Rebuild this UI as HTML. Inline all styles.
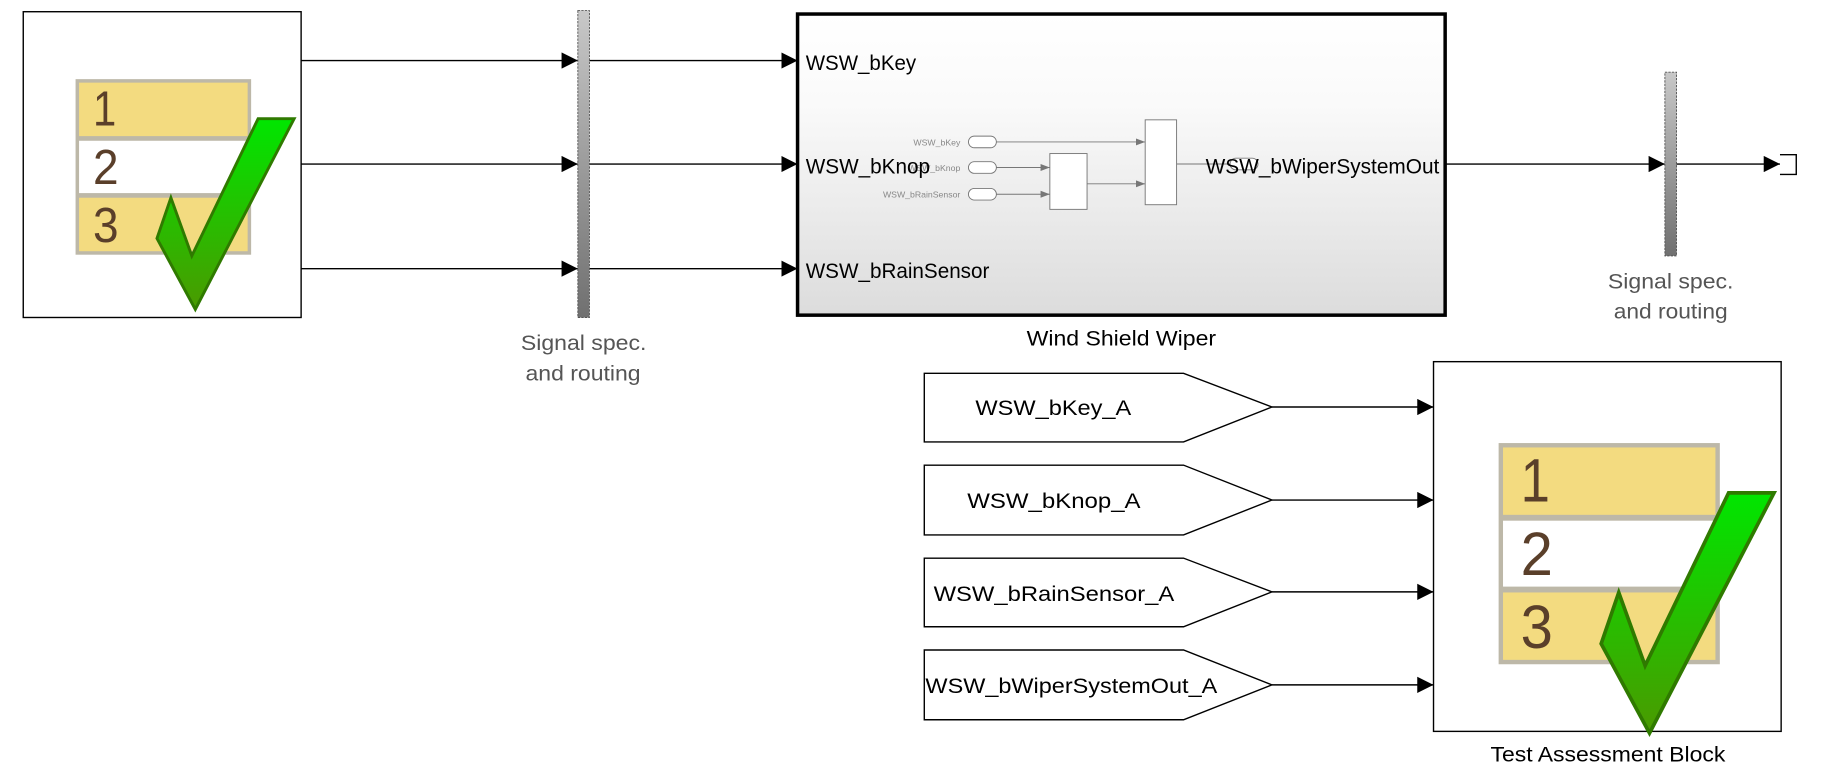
<!DOCTYPE html>
<html><head><meta charset="utf-8"><style>html,body{margin:0;padding:0;background:#fff;overflow:hidden}svg{display:block}</style></head>
<body>
<svg width="1823" height="771" viewBox="0 0 1568 663" xmlns="http://www.w3.org/2000/svg" font-family="Liberation Sans, sans-serif">
<defs>
<linearGradient id="wsw" x1="0" y1="0" x2="0" y2="1"><stop offset="0" stop-color="#fff"/><stop offset="0.3" stop-color="#fafafa"/><stop offset="1" stop-color="#dcdcdc"/></linearGradient>
<linearGradient id="chk" x1="0" y1="0" x2="0" y2="1"><stop offset="0" stop-color="#00e600"/><stop offset="1" stop-color="#4a9a00"/></linearGradient>
<linearGradient id="bar" x1="0" y1="0" x2="0" y2="1"><stop offset="0" stop-color="#c8c8c8"/><stop offset="1" stop-color="#707070"/></linearGradient>
<marker id="a" markerWidth="14" markerHeight="14" refX="14" refY="7" orient="auto" markerUnits="userSpaceOnUse"><path d="M0,0 L14,7 L0,14 z" fill="#000"/></marker>
<marker id="s" markerWidth="8" markerHeight="8" refX="8" refY="4" orient="auto" markerUnits="userSpaceOnUse"><path d="M0,1 L8,4 L0,7 z" fill="#777"/></marker>
<g id="icon">
<rect x="0" y="0" width="151" height="151" fill="#bdb8a8"/>
<rect x="3" y="3" width="145" height="46" fill="#f3db80"/>
<rect x="3" y="53" width="145" height="45" fill="#fff"/>
<rect x="3" y="102" width="145" height="46" fill="#f3db80"/>
<text x="15" y="40" font-size="42" fill="#5a3f2a" textLength="20" lengthAdjust="spacingAndGlyphs">1</text>
<text x="15" y="90" font-size="42" fill="#5a3f2a" textLength="22" lengthAdjust="spacingAndGlyphs">2</text>
<text x="15" y="140" font-size="42" fill="#5a3f2a" textLength="22" lengthAdjust="spacingAndGlyphs">3</text>
<polygon points="157,34 188,34 103,198 70,137 82,102 100,152" fill="url(#chk)" stroke="#2f7a00" stroke-width="2.5"/>
</g>
</defs>

<rect x="20" y="10" width="239" height="263" fill="#fff" stroke="#000" stroke-width="1.2"/>
<use href="#icon" x="65" y="68"/>

<g stroke="#000" stroke-width="1.2" fill="none">
<line x1="259" y1="52" x2="497" y2="52" marker-end="url(#a)"/>
<line x1="259" y1="141" x2="497" y2="141" marker-end="url(#a)"/>
<line x1="259" y1="231" x2="497" y2="231" marker-end="url(#a)"/>
<line x1="507" y1="52" x2="686" y2="52" marker-end="url(#a)"/>
<line x1="507" y1="141" x2="686" y2="141" marker-end="url(#a)"/>
<line x1="507" y1="231" x2="686" y2="231" marker-end="url(#a)"/>
<line x1="1243" y1="141" x2="1432" y2="141" marker-end="url(#a)"/>
<line x1="1442" y1="141" x2="1531" y2="141" marker-end="url(#a)"/>
<path d="M1531,133 H1545 V150 H1531"/>
</g>
<rect x="497" y="9" width="10" height="264" fill="url(#bar)" stroke="#555" stroke-width="0.8" stroke-dasharray="2,1"/>
<rect x="1432" y="62" width="10" height="158" fill="url(#bar)" stroke="#555" stroke-width="0.8" stroke-dasharray="2,1"/>
<g font-size="18" fill="#555" lengthAdjust="spacingAndGlyphs">
<text x="448" y="301" textLength="108" lengthAdjust="spacingAndGlyphs">Signal spec.</text><text x="452" y="327" textLength="99" lengthAdjust="spacingAndGlyphs">and routing</text>
<text x="1383" y="248" textLength="108" lengthAdjust="spacingAndGlyphs">Signal spec.</text><text x="1388" y="274" textLength="98" lengthAdjust="spacingAndGlyphs">and routing</text>
</g>

<rect x="686" y="12" width="557" height="259" fill="url(#wsw)" stroke="#000" stroke-width="3"/>
<g font-size="7.5" fill="#888" text-anchor="end">
<text x="826" y="125">WSW_bKey</text><text x="826" y="147">WSW_bKnop</text><text x="826" y="170">WSW_bRainSensor</text>
</g>
<g stroke="#777" stroke-width="0.8" fill="#fff">
<rect x="833" y="117" width="24" height="10" rx="5"/>
<rect x="833" y="139" width="24" height="10" rx="5"/>
<rect x="833" y="162" width="24" height="10" rx="5"/>
<rect x="903" y="132" width="32" height="48"/>
<rect x="985" y="103" width="27" height="73"/>
<rect x="1058" y="136" width="24" height="10" rx="5"/>
<line x1="857" y1="122" x2="985" y2="122" marker-end="url(#s)"/>
<line x1="857" y1="144" x2="903" y2="144" marker-end="url(#s)"/>
<line x1="857" y1="167" x2="903" y2="167" marker-end="url(#s)"/>
<line x1="935" y1="158" x2="985" y2="158" marker-end="url(#s)"/>
<line x1="1012" y1="141" x2="1058" y2="141"/>
</g>
<g font-size="18" fill="#000">
<text x="693" y="60" textLength="95" lengthAdjust="spacingAndGlyphs">WSW_bKey</text>
<text x="693" y="149" textLength="107" lengthAdjust="spacingAndGlyphs">WSW_bKnop</text>
<text x="693" y="239" textLength="158" lengthAdjust="spacingAndGlyphs">WSW_bRainSensor</text>
<text x="1037" y="149" textLength="201" lengthAdjust="spacingAndGlyphs">WSW_bWiperSystemOut</text>
<text x="883" y="297" textLength="163" lengthAdjust="spacingAndGlyphs">Wind Shield Wiper</text>
</g>

<g stroke="#000" stroke-width="1.2" fill="#fff">
<path d="M795,321 H1018 L1094,350 L1018,380 H795 Z"/>
<path d="M795,400 H1018 L1094,430 L1018,460 H795 Z"/>
<path d="M795,480 H1018 L1094,509 L1018,539 H795 Z"/>
<path d="M795,559 H1018 L1094,589 L1018,619 H795 Z"/>
</g>
<g font-size="18" fill="#000">
<text x="839" y="357" textLength="134" lengthAdjust="spacingAndGlyphs">WSW_bKey_A</text>
<text x="832" y="437" textLength="149" lengthAdjust="spacingAndGlyphs">WSW_bKnop_A</text>
<text x="803" y="517" textLength="207" lengthAdjust="spacingAndGlyphs">WSW_bRainSensor_A</text>
<text x="796" y="596" textLength="251" lengthAdjust="spacingAndGlyphs">WSW_bWiperSystemOut_A</text>
</g>
<g stroke="#000" stroke-width="1.2">
<line x1="1094" y1="350" x2="1233" y2="350" marker-end="url(#a)"/>
<line x1="1094" y1="430" x2="1233" y2="430" marker-end="url(#a)"/>
<line x1="1094" y1="509" x2="1233" y2="509" marker-end="url(#a)"/>
<line x1="1094" y1="589" x2="1233" y2="589" marker-end="url(#a)"/>
</g>

<rect x="1233" y="311" width="299" height="318" fill="#fff" stroke="#000" stroke-width="1.2"/>
<use href="#icon" transform="translate(1289,381) scale(1.26)"/>
<text x="1282" y="655" font-size="18" textLength="202" lengthAdjust="spacingAndGlyphs">Test Assessment Block</text>
</svg>
</body></html>
